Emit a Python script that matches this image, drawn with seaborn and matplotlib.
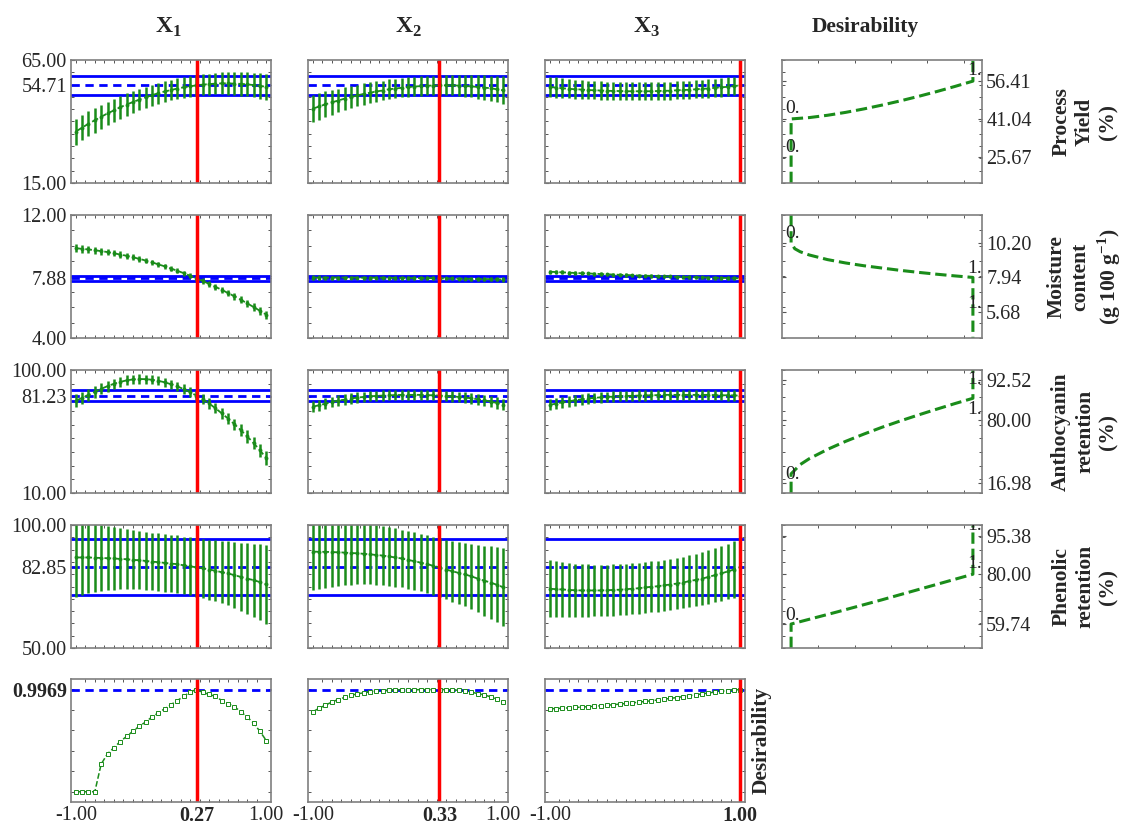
import numpy as np
import pandas as pd
import seaborn as sns
import matplotlib.pyplot as plt
from matplotlib.ticker import MultipleLocator, FixedLocator

# coded factor levels (-1 .. 1) and the optimum setting of each factor
levels = np.round(np.linspace(-1, 1, 31), 4)
factors = ["X$_\\mathbf{1}$", "X$_\\mathbf{2}$", "X$_\\mathbf{3}$"]
optimum = [0.27, 0.33, 1.00]

# process yield (%)
yield_x1 = [35.9, 37.5, 39.1, 40.5, 41.9, 43.3, 44.5, 45.8, 46.9, 47.9, 48.9, 49.8, 50.7, 51.5, 52.2, 52.8,
            53.4, 53.9, 54.3, 54.7, 55.0, 55.2, 55.4, 55.5, 55.5, 55.4, 55.3, 55.1, 54.8, 54.5, 54.1]
yield_x1_err = [5.3, 5.2, 5.1, 5.0, 4.9, 4.8, 4.7, 4.6, 4.5, 4.4, 4.4, 4.3, 4.3, 4.2, 4.2, 4.2,
                4.2, 4.2, 4.2, 4.2, 4.3, 4.3, 4.4, 4.5, 4.6, 4.7, 4.8, 4.9, 5.0, 5.2, 5.4]
yield_x2 = [45.2, 46.1, 47.0, 47.8, 48.5, 49.3, 49.9, 50.6, 51.2, 51.7, 52.2, 52.6, 53.1, 53.4, 53.7, 54.0,
            54.2, 54.4, 54.6, 54.6, 54.7, 54.7, 54.7, 54.6, 54.4, 54.3, 54.0, 53.8, 53.5, 53.1, 52.7]
yield_x2_err = [5.6, 5.4, 5.2, 5.0, 4.8, 4.7, 4.5, 4.4, 4.3, 4.2, 4.1, 4.0, 4.0, 3.9, 3.9, 3.9,
                3.9, 3.9, 3.9, 3.9, 3.9, 4.0, 4.1, 4.2, 4.4, 4.5, 4.7, 4.9, 5.1, 5.3, 5.6]
yield_x3 = [54.0, 53.8, 53.5, 53.3, 53.1, 53.0, 52.8, 52.7, 52.6, 52.5, 52.4, 52.4, 52.3, 52.3, 52.3, 52.3,
            52.3, 52.4, 52.5, 52.5, 52.7, 52.8, 52.9, 53.1, 53.3, 53.4, 53.7, 53.9, 54.1, 54.4, 54.7]
yield_x3_err = [4.2, 4.1, 4.0, 3.9, 3.9, 3.8, 3.8, 3.7, 3.7, 3.7, 3.6, 3.6, 3.6, 3.6, 3.6, 3.6,
                3.6, 3.6, 3.6, 3.6, 3.6, 3.6, 3.6, 3.7, 3.7, 3.7, 3.7, 3.8, 3.8, 3.8, 3.9]

# moisture content (g 100 g-1)
moist_x1 = [9.84, 9.80, 9.76, 9.71, 9.65, 9.59, 9.51, 9.43, 9.35, 9.25, 9.15, 9.04, 8.92, 8.79, 8.66, 8.52,
            8.37, 8.22, 8.05, 7.88, 7.71, 7.52, 7.33, 7.13, 6.92, 6.71, 6.49, 6.25, 6.02, 5.77, 5.52]
moist_x1_err = [0.26, 0.25, 0.24, 0.23, 0.22, 0.21, 0.20, 0.20, 0.19, 0.19, 0.18, 0.18, 0.17, 0.17, 0.17, 0.17,
                0.17, 0.17, 0.17, 0.17, 0.18, 0.18, 0.19, 0.19, 0.20, 0.21, 0.22, 0.23, 0.24, 0.25, 0.26]
moist_x2 = [7.93, 7.93, 7.93, 7.93, 7.93, 7.93, 7.93, 7.93, 7.92, 7.92, 7.92, 7.92, 7.91, 7.91, 7.91, 7.90,
            7.90, 7.90, 7.89, 7.89, 7.88, 7.87, 7.87, 7.86, 7.86, 7.85, 7.84, 7.84, 7.83, 7.82, 7.81]
moist_x2_err = [0.14, 0.14, 0.13, 0.13, 0.13, 0.12, 0.12, 0.12, 0.12, 0.12, 0.11, 0.11, 0.11, 0.11, 0.11, 0.11,
                0.11, 0.11, 0.11, 0.11, 0.11, 0.11, 0.12, 0.12, 0.12, 0.12, 0.12, 0.13, 0.13, 0.13, 0.14]
moist_x3 = [8.31, 8.29, 8.27, 8.25, 8.23, 8.21, 8.20, 8.18, 8.16, 8.14, 8.13, 8.11, 8.10, 8.08, 8.06, 8.05,
            8.04, 8.02, 8.01, 8.00, 7.98, 7.97, 7.96, 7.95, 7.94, 7.93, 7.92, 7.91, 7.90, 7.89, 7.88]
moist_x3_err = [0.13, 0.13, 0.13, 0.12, 0.12, 0.12, 0.12, 0.12, 0.11, 0.11, 0.11, 0.11, 0.11, 0.11, 0.11, 0.11,
                0.11, 0.11, 0.11, 0.11, 0.11, 0.11, 0.11, 0.11, 0.12, 0.12, 0.12, 0.12, 0.12, 0.13, 0.13]

# anthocyanin retention (%)
antho_x1 = [77.6, 79.5, 81.8, 84.0, 86.2, 88.2, 89.9, 91.3, 92.4, 93.1, 93.4, 93.3, 92.9, 92.1, 91.0, 89.6,
            88.0, 86.0, 83.8, 81.3, 78.6, 75.5, 72.0, 68.3, 64.4, 60.3, 56.0, 51.4, 46.6, 41.3, 35.5]
antho_x1_err = [4.9, 4.7, 4.5, 4.3, 4.1, 4.0, 3.8, 3.7, 3.6, 3.5, 3.5, 3.4, 3.4, 3.4, 3.4, 3.4,
                3.4, 3.4, 3.5, 3.5, 3.6, 3.7, 3.8, 3.9, 4.0, 4.2, 4.3, 4.5, 4.7, 4.9, 5.1]
antho_x2 = [73.2, 74.2, 75.4, 76.6, 77.6, 78.3, 79.1, 79.8, 80.3, 80.8, 81.0, 81.3, 81.5, 81.6, 81.8, 81.8,
            81.8, 81.8, 81.6, 81.5, 81.3, 81.0, 80.7, 80.3, 79.8, 79.3, 78.6, 77.9, 76.9, 75.9, 74.7]
antho_x2_err = [4.2, 4.1, 4.0, 4.0, 3.9, 3.9, 3.9, 3.8, 3.8, 3.8, 3.8, 3.8, 3.8, 3.8, 3.8, 3.8,
                3.8, 3.8, 3.8, 3.8, 3.8, 3.8, 3.8, 3.8, 3.9, 3.9, 3.9, 4.0, 4.0, 4.1, 4.2]
antho_x3 = [74.5, 75.4, 76.4, 77.1, 77.9, 78.6, 79.1, 79.6, 80.0, 80.3, 80.5, 80.8, 81.0, 81.1, 81.3, 81.4,
            81.5, 81.6, 81.8, 81.8, 81.8, 81.8, 81.8, 81.8, 81.8, 81.8, 81.6, 81.5, 81.5, 81.4, 81.2]
antho_x3_err = [4.1, 4.0, 4.0, 3.9, 3.9, 3.9, 3.8, 3.8, 3.8, 3.8, 3.8, 3.8, 3.8, 3.8, 3.8, 3.8,
                3.8, 3.8, 3.8, 3.8, 3.8, 3.8, 3.8, 3.8, 3.8, 3.8, 3.8, 3.8, 3.9, 3.9, 3.9]

# phenolic retention (%)
phenol_x1 = [86.8, 86.8, 86.8, 86.7, 86.6, 86.5, 86.4, 86.2, 86.1, 85.8, 85.7, 85.4, 85.1, 84.9, 84.6, 84.3,
             84.1, 83.6, 83.2, 82.8, 82.4, 81.9, 81.4, 80.8, 80.3, 79.6, 78.9, 78.2, 77.6, 76.8, 75.9]
phenol_x1_err = [15.9, 15.2, 14.6, 14.0, 13.5, 13.1, 12.7, 12.4, 12.2, 12.0, 11.9, 11.8, 11.7, 11.7, 11.7, 11.7,
                 11.7, 11.7, 11.8, 11.9, 12.0, 12.2, 12.4, 12.7, 13.0, 13.4, 13.8, 14.3, 14.8, 15.4, 16.0]
phenol_x2 = [89.2, 89.1, 89.1, 89.0, 88.9, 88.8, 88.6, 88.5, 88.3, 88.1, 87.8, 87.6, 87.2, 86.8, 86.4, 85.8,
             85.3, 84.7, 84.1, 83.4, 82.7, 81.9, 81.2, 80.5, 79.9, 79.1, 78.2, 77.4, 76.6, 75.7, 74.7]
phenol_x2_err = [15.8, 15.2, 14.6, 14.1, 13.6, 13.2, 12.9, 12.6, 12.4, 12.2, 12.0, 11.9, 11.8, 11.8, 11.7, 11.7,
                 11.7, 11.7, 11.8, 11.8, 11.9, 12.1, 12.3, 12.6, 12.9, 13.3, 13.7, 14.2, 14.7, 15.3, 15.9]
phenol_x3 = [74.1, 73.9, 73.8, 73.6, 73.5, 73.4, 73.4, 73.4, 73.4, 73.5, 73.6, 73.7, 73.9, 74.1, 74.3, 74.6,
             74.9, 75.1, 75.5, 75.8, 76.2, 76.6, 77.2, 77.7, 78.2, 78.9, 79.6, 80.3, 81.1, 81.9, 82.9]
phenol_x3_err = [11.6, 11.4, 11.2, 11.0, 10.8, 10.7, 10.6, 10.5, 10.4, 10.4, 10.4, 10.3, 10.3, 10.3, 10.3, 10.3,
                 10.3, 10.3, 10.4, 10.4, 10.5, 10.5, 10.6, 10.7, 10.8, 10.9, 11.0, 11.1, 11.2, 11.4, 11.5]

# overall desirability along each factor
desir_x1 = [0.0, 0.0, 0.0, 0.0, 0.27, 0.37, 0.43, 0.49, 0.54, 0.59, 0.64, 0.68, 0.73, 0.77, 0.81, 0.85,
            0.89, 0.93, 0.974, 0.9969, 0.97, 0.95, 0.93, 0.89, 0.86, 0.83, 0.78, 0.73, 0.67, 0.59, 0.50]
desir_x2 = [0.78, 0.815, 0.845, 0.875, 0.90, 0.92, 0.94, 0.955, 0.965, 0.975, 0.982, 0.987, 0.99, 0.993, 0.994, 0.995,
            0.995, 0.996, 0.996, 0.9965, 0.9969, 0.996, 0.994, 0.99, 0.98, 0.97, 0.958, 0.944, 0.927, 0.906, 0.88]
desir_x3 = [0.809, 0.812, 0.815, 0.818, 0.822, 0.826, 0.830, 0.834, 0.839, 0.844, 0.849, 0.855, 0.861, 0.867, 0.874, 0.881,
            0.888, 0.895, 0.903, 0.911, 0.919, 0.928, 0.937, 0.946, 0.955, 0.964, 0.972, 0.980, 0.987, 0.993, 0.9969]
desir_best = 0.9969

# individual desirability functions (desirability, response)
yield_fd = [0, 0, 0.1, 0.2, 0.3, 0.4, 0.5, 0.6, 0.7, 0.8, 0.9, 1.0, 1.0]
yield_fy = [15, 41.04, 41.59, 42.53, 43.71, 45.11, 46.67, 48.37, 50.20, 52.15, 54.23, 56.41, 65]
moist_fd = [0, 0, 0.02, 0.05, 0.1, 0.2, 0.3, 0.4, 0.5, 0.6, 0.7, 0.8, 0.9, 1.0, 1.0]
moist_fy = [12, 10.20, 9.81, 9.61, 9.40, 9.10, 8.88, 8.70, 8.55, 8.40, 8.27, 8.15, 8.04, 7.94, 4]
antho_fd = [0, 0, 0.05, 0.1, 0.2, 0.3, 0.4, 0.5, 0.6, 0.7, 0.8, 0.9, 1.0, 1.0]
antho_fy = [10, 24.0, 30.8, 35.1, 41.9, 47.8, 53.1, 58.1, 62.7, 67.1, 71.3, 75.4, 79.3, 100]
phenol_fd = [0, 0, 0.25, 0.5, 0.75, 1.0, 1.0]
phenol_fy = [50, 59.74, 64.6, 69.6, 74.8, 80.0, 100]

row_names = ["Process\nYield\n(%)", "Moisture\ncontent\n(g 100 g$^{\\mathbf{-1}}$)",
             "Anthocyanin\nretention\n(%)", "Phenolic\nretention\n(%)"]
row_lims = [(15, 65), (4, 12), (10, 100), (50, 100)]
row_pred = [54.71, 7.88, 81.23, 82.85]
row_ci = [(50.86, 58.56), (7.71, 8.05), (77.4, 85.0), (71.45, 94.25)]
row_right_ticks = [[25.67, 41.04, 56.41], [5.68, 7.94, 10.20], [16.98, 63.5, 92.52], [59.74, 80.00, 95.38]]
row_right_labels = [["25.67", "41.04", "56.41"], ["5.68", "7.94", "10.20"],
                    ["16.98", "80.00", "92.52"], ["59.74", "80.00", "95.38"]]

means = [[yield_x1, yield_x2, yield_x3], [moist_x1, moist_x2, moist_x3],
         [antho_x1, antho_x2, antho_x3], [phenol_x1, phenol_x2, phenol_x3]]
errs = [[yield_x1_err, yield_x2_err, yield_x3_err], [moist_x1_err, moist_x2_err, moist_x3_err],
        [antho_x1_err, antho_x2_err, antho_x3_err], [phenol_x1_err, phenol_x2_err, phenol_x3_err]]
funcs = [(yield_fd, yield_fy), (moist_fd, moist_fy), (antho_fd, antho_fy), (phenol_fd, phenol_fy)]
desir = [desir_x1, desir_x2, desir_x3]

# stray "0." / "1." labels drawn inside the desirability-function panels
func_marks = [[(-0.034, 45.4, "0."), (-0.034, 29.6, "0."), (0.968, 60.7, "1.")],
              [(-0.034, 10.8, "0."), (0.968, 8.53, "1."), (0.968, 6.22, "1.")],
              [(-0.034, 23.4, "0."), (0.968, 92.7, "1."), (0.968, 70.8, "1.")],
              [(-0.034, 63.4, "0."), (0.968, 84.3, "1."), (0.968, 99.6, "1.")]]
row_minor = [5, 1, 10, 5]

GREEN = "#1a8c1a"
BLUE = "#0000ff"
RED = "#ff0000"

sns.set_theme(style="white")
plt.rcParams["font.family"] = ["Liberation Serif", "DejaVu Serif"]
plt.rcParams["mathtext.fontset"] = "custom"
plt.rcParams["mathtext.rm"] = "Liberation Serif"
plt.rcParams["mathtext.bf"] = "Liberation Serif:bold"

W, H = 1131, 830
fig = plt.figure(figsize=(W / 100, H / 100), dpi=100)
col_left = [71, 308, 545, 782]
row_top = [60, 215, 370, 525, 679]
PW, PH = 200, 123
TICK_FS = 14.5


def add_ax(left, top):
    return fig.add_axes([left / W, 1 - (top + PH) / H, PW / W, PH / H])


def frame(ax):
    for s in ax.spines.values():
        s.set_color("#7f7f7f")
        s.set_linewidth(1.2)
    ax.tick_params(which="both", direction="in", top=True, bottom=True, left=True, right=True,
                   color="#555555", labelsize=TICK_FS, pad=3)
    ax.tick_params(which="major", length=3, width=0.8)
    ax.tick_params(which="minor", length=2.2, width=0.7)


for r in range(4):
    lo, hi = row_lims[r]
    for c in range(3):
        ax = add_ax(col_left[c], row_top[r])
        ax.axhline(row_ci[r][0], color=BLUE, lw=2)
        ax.axhline(row_ci[r][1], color=BLUE, lw=2)
        ax.axhline(row_pred[r], color=BLUE, lw=2, ls="--", dashes=(3, 2))
        ax.errorbar(levels, means[r][c], yerr=errs[r][c], fmt="none", ecolor=GREEN, elinewidth=1.8)
        sns.lineplot(x=levels, y=means[r][c], ax=ax, color=GREEN, linestyle="--", linewidth=1.3,
                     marker="o", markersize=2.8, markeredgewidth=0, estimator=None, sort=False)
        ax.axvline(optimum[c], color=RED, lw=2.5)
        ax.set_xlim(-1.05, 1.05)
        ax.set_ylim(lo, hi)
        ax.set_xticks([])
        ax.xaxis.set_minor_locator(MultipleLocator(0.1))
        ax.yaxis.set_minor_locator(MultipleLocator(row_minor[r]))
        ax.set_yticks([lo, row_pred[r], hi])
        if c == 0:
            ax.set_yticklabels([f"{v:.2f}" for v in (lo, row_pred[r], hi)])
        else:
            ax.set_yticklabels([])
        ax.set_xlabel("")
        ax.set_ylabel("")
        frame(ax)

    # desirability function of this response
    ax = add_ax(col_left[3], row_top[r])
    fd, fy = funcs[r]
    sns.lineplot(x=fd, y=fy, ax=ax, color=GREEN, linestyle="--", linewidth=2.2,
                 estimator=None, sort=False)
    for x, y, s in func_marks[r]:
        ax.text(x, y, s, fontsize=14, color="#222222", ha="left", va="center", clip_on=True)
    ax.set_xlim(-0.05, 1.05)
    ax.set_ylim(lo, hi)
    ax.set_xticks([])
    ax.xaxis.set_minor_locator(FixedLocator([0.15, 0.35, 0.55, 0.75, 0.95]))
    ax.yaxis.set_minor_locator(MultipleLocator(row_minor[r]))
    ax.set_yticks(row_right_ticks[r])
    ax.set_yticklabels(row_right_labels[r])
    ax.set_xlabel("")
    ax.set_ylabel("")
    frame(ax)
    ax.tick_params(axis="y", labelleft=False, labelright=True)
    fig.text(1085 / W, 1 - (row_top[r] + PH / 2) / H, row_names[r], rotation=90, ha="center", va="center",
             multialignment="center", fontsize=15.5, fontweight="bold", linespacing=1.25)

# overall desirability row
for c in range(3):
    ax = add_ax(col_left[c], row_top[4])
    ax.axhline(desir_best, color=BLUE, lw=2, ls="--", dashes=(3, 2))
    sns.lineplot(x=levels, y=desir[c], ax=ax, color=GREEN, linestyle="--", linewidth=1.1,
                 marker="s", markersize=3.2, markerfacecolor="white", markeredgecolor=GREEN,
                 markeredgewidth=0.7, estimator=None, sort=False)
    ax.axvline(optimum[c], color=RED, lw=2.5)
    ax.set_xlim(-1.05, 1.05)
    ax.set_ylim(-0.1, 1.1)
    ticks = [-1.0, optimum[c], 1.0] if optimum[c] < 1 else [-1.0, 1.0]
    ax.set_xticks(ticks)
    ax.set_xticklabels([f"{t:.2f}" for t in ticks])
    for t, lab in zip(ticks, ax.get_xticklabels()):
        if t == optimum[c]:
            lab.set_fontweight("bold")
    ax.xaxis.set_minor_locator(MultipleLocator(0.1))
    ax.yaxis.set_minor_locator(MultipleLocator(0.2))
    ax.set_yticks([desir_best])
    if c == 0:
        ax.set_yticklabels([f"{desir_best:.4f}"], fontweight="bold")
    else:
        ax.set_yticklabels([])
    ax.set_xlabel("")
    ax.set_ylabel("")
    frame(ax)
    ax.tick_params(axis="x", which="major", length=0)

fig.text(762 / W, 1 - (row_top[4] + PH / 2) / H, "Desirability", rotation=90, ha="center", va="center",
         fontsize=15.5, fontweight="bold")

title_x = [168, 408, 647]
for c in range(3):
    fig.text(title_x[c] / W, 1 - 27 / H, "$\\mathbf{X}$" + factors[c][1:], ha="center", va="center",
             fontsize=17, fontweight="bold")
fig.text(865 / W, 1 - 27 / H, "Desirability", ha="center", va="center", fontsize=15.5, fontweight="bold")

fig.savefig("out.png", dpi=100, facecolor="white")
